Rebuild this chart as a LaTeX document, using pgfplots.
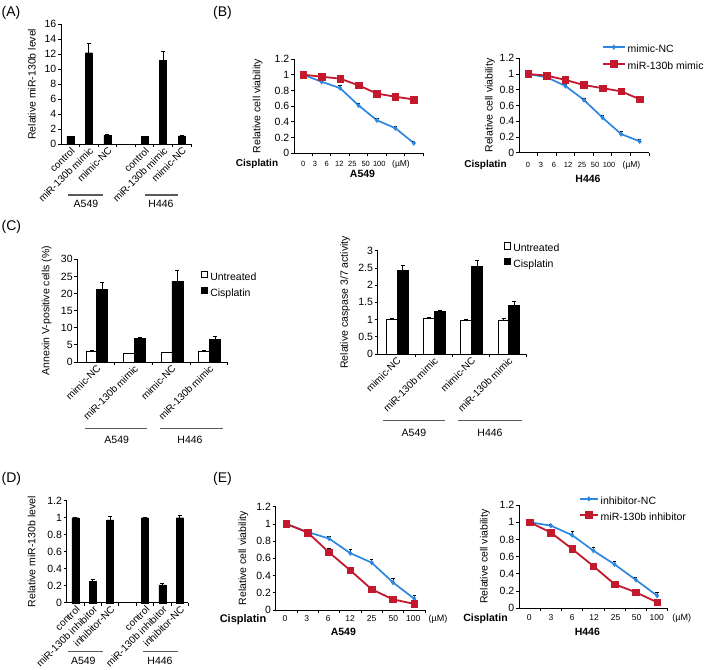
\documentclass[border=0pt]{standalone}
\usepackage{fontspec}
\setmainfont{Liberation Sans}
\usepackage{pgfplots}
\pgfplotsset{compat=1.18}

\definecolor{ncblue}{RGB}{45,135,225}
\definecolor{mired}{RGB}{195,25,45}
\definecolor{grp}{RGB}{90,90,90}

\pgfplotsset{
  panel/.style={
    scale only axis, clip=false,
    axis lines=left, axis line style={-, line width=0.8pt, black},
    tick align=outside, major tick length=3pt,
    tick style={line width=0.8pt, black},
    tick label style={font=\fontsize{10.5}{12}\selectfont},
    yticklabel style={/pgf/number format/assume math mode=true, inner sep=1.5pt},
    label style={font=\fontsize{10.5}{12}\selectfont},
    xmin=-0.5, ymin=0,
  },
  catbar/.style={panel, ybar, bar width=7pt, xticklabels={},
    extra x tick style={major tick length=0pt,
      tick label style={rotate=45, anchor=north east, inner sep=1.5pt,
        font=\fontsize{10}{12}\selectfont}},
  },
  curve/.style={panel, xmax=6.5, ymax=1.2,
    ytick={0,0.2,0.4,0.6,0.8,1,1.2},
    xtick={0.5,1.5,2.5,3.5,4.5,5.5,6.5}, xticklabels={},
    ylabel={Relative cell viability},
  },
  errs/.style={error bars/y dir=plus, error bars/y explicit,
    error bars/error bar style={line width=0.8pt, black},
    error bars/error mark options={rotate=90, mark size=2pt, line width=0.8pt, black}},
  lerrs/.style={error bars/y dir=plus, error bars/y explicit,
    error bars/error bar style={line width=0.7pt, black},
    error bars/error mark options={rotate=90, mark size=1.6pt, line width=0.7pt, black}},
  ncline/.style={ncblue, line width=1.7pt, mark=diamond*, mark size=2.3pt,
    mark options={solid, fill=ncblue, line width=0.5pt}},
  miline/.style={mired, line width=1.8pt, mark=square*, mark size=3.3pt,
    mark options={solid, fill=mired, line width=0.5pt}},
  linekey/.style={legend image code/.code={
    \draw[mark repeat=2, mark phase=2, ##1] plot coordinates {(0pt,3pt) (#1/2,3pt) (#1,3pt)};}},
  boxkey/.style={legend image code/.code={
    \draw[#1, line width=0.8pt] (0pt,0pt) rectangle (6.4pt,6.4pt);}},
  keys/.style={legend cell align=left,
    legend style={draw=none, fill=none, inner sep=0pt, outer sep=0pt,
      column sep=1pt, font=\fontsize{10.5}{12}\selectfont,
      nodes={inner sep=1pt, text height=7.8pt, text depth=2.5pt}}},
}

\begin{document}
\begin{tikzpicture}
\useasboundingbox (0pt,0pt) rectangle (709pt,-669pt);
\tikzset{lab/.style={anchor=base, inner sep=0pt}}

% (A)
\begin{axis}[catbar, at={(61pt,-144pt)}, anchor=south west,
  width=130pt, height=119.7pt, xmax=6.5, ymax=16,
  ytick={0,2,...,16},
  xtick={0.5,1.5,2.5,3.5,4.5,5.5,6.5},
  extra x ticks={0,1,2,4,5,6},
  extra x tick labels={control, miR-130b mimic, mimic-NC, control, miR-130b mimic, mimic-NC},
  ylabel={Relative miR-130b level},
  ylabel style={at={(axis description cs:-0.225,0.5)}, anchor=center}]
  \addplot[fill=black, draw=black, errs] coordinates {
    (0,1.0) +- (0,0.08) (1,12.2) +- (0,1.2) (2,1.2) +- (0,0.05)
    (4,1.0) +- (0,0.07) (5,11.2) +- (0,1.2) (6,1.1) +- (0,0.05)};
\end{axis}

% (B) A549
\begin{axis}[curve, at={(294pt,-153.3pt)}, anchor=south west,
  width=129pt, height=94.3pt,
  ylabel style={at={(axis description cs:-0.281,0.5)}, anchor=center}]
  \addplot[ncline, lerrs] coordinates {
    (0,1.00) +- (0,0.01) (1,0.91) +- (0,0.02) (2,0.83) +- (0,0.04)
    (3,0.61) +- (0,0.02) (4,0.42) +- (0,0.02) (5,0.32) +- (0,0.02) (6,0.13) +- (0,0.02)};
  \addplot[miline, lerrs] coordinates {
    (0,1.00) +- (0,0.01) (1,0.975) +- (0,0.02) (2,0.95) +- (0,0.02)
    (3,0.865) +- (0,0.04) (4,0.76) +- (0,0.02) (5,0.72) +- (0,0.02) (6,0.685) +- (0,0.02)};
\end{axis}

% (B) H446
\begin{axis}[curve, keys, at={(519pt,-152.7pt)}, anchor=south west,
  width=130pt, height=94.4pt,
  ylabel style={at={(axis description cs:-0.223,0.5)}, anchor=center},
  legend style={at={(0.638,1.151)}, anchor=north west, row sep=4.4pt}]
  \addplot[forget plot, ncline, lerrs] coordinates {
    (0,1.00) +- (0,0.04) (1,0.958) +- (0,0.02) (2,0.848) +- (0,0.02)
    (3,0.67) +- (0,0.02) (4,0.445) +- (0,0.03) (5,0.237) +- (0,0.03) (6,0.144) +- (0,0.02)};
  \addplot[forget plot, miline, lerrs] coordinates {
    (0,1.00) +- (0,0.02) (1,0.98) +- (0,0.02) (2,0.925) +- (0,0.02)
    (3,0.86) +- (0,0.02) (4,0.82) +- (0,0.03) (5,0.78) +- (0,0.02) (6,0.68) +- (0,0.02)};
  \addlegendimage{ncline, linekey=22pt}
  \addlegendentry{mimic-NC}
  \addlegendimage{miline, linekey=22pt}
  \addlegendentry{miR-130b mimic}
\end{axis}

% (C) Annexin V
\begin{axis}[catbar, keys, bar width=11pt, at={(77.3pt,-362pt)}, anchor=south west,
  width=150.2pt, height=102.7pt, xmax=3.5, ymax=30,
  ytick={0,5,...,30},
  xtick={0.5,1.5,2.5,3.5},
  extra x ticks={0,1,2,3},
  extra x tick labels={mimic-NC, miR-130b mimic, mimic-NC, miR-130b mimic},
  ylabel={Annexin V-positive cells (\%)},
  ylabel style={at={(axis description cs:-0.204,0.5)}, anchor=center},
  legend style={at={(0.824,0.886)}, anchor=north west, row sep=3pt}]
  \addplot[forget plot, bar shift=-4.5pt, fill=white, draw=black, line width=0.8pt, errs] coordinates {
    (0,3.2) +- (0,0.1) (1,2.4) +- (0,0.1) (2,2.7) +- (0,0.1) (3,3.2) +- (0,0.1)};
  \addplot[forget plot, bar shift=6.3pt, fill=black, draw=black, line width=0.8pt, errs] coordinates {
    (0,21.2) +- (0,2.0) (1,6.84) +- (0,0.3) (2,23.65) +- (0,3.0) (3,6.5) +- (0,0.9)};
  \addlegendimage{boxkey, fill=white, draw=black}
  \addlegendentry{Untreated}
  \addlegendimage{boxkey, fill=black, draw=black}
  \addlegendentry{Cisplatin}
\end{axis}

% (C) caspase
\begin{axis}[catbar, keys, bar width=11pt, at={(377.7pt,-354pt)}, anchor=south west,
  width=149pt, height=103.3pt, xmax=3.5, ymax=3,
  ytick={0,0.5,1,1.5,2,2.5,3},
  xtick={0.5,1.5,2.5,3.5},
  extra x ticks={0,1,2,3},
  extra x tick labels={mimic-NC, miR-130b mimic, mimic-NC, miR-130b mimic},
  ylabel={Relative caspase 3/7 activity},
  ylabel style={at={(axis description cs:-0.219,0.5)}, anchor=center},
  legend style={at={(0.848,1.081)}, anchor=north west, row sep=2.4pt}]
  \addplot[forget plot, bar shift=-4.5pt, fill=white, draw=black, line width=0.8pt, errs] coordinates {
    (0,1.0) +- (0,0.02) (1,1.03) +- (0,0.02) (2,0.98) +- (0,0.03) (3,0.99) +- (0,0.03)};
  \addplot[forget plot, bar shift=6.3pt, fill=black, draw=black, line width=0.8pt, errs] coordinates {
    (0,2.42) +- (0,0.16) (1,1.24) +- (0,0.03) (2,2.54) +- (0,0.19) (3,1.41) +- (0,0.11)};
  \addlegendimage{boxkey, fill=white, draw=black}
  \addlegendentry{Untreated}
  \addlegendimage{boxkey, fill=black, draw=black}
  \addlegendentry{Cisplatin}
\end{axis}

% (D)
\begin{axis}[catbar, at={(66.7pt,-602.7pt)}, anchor=south west,
  width=121.8pt, height=102pt, xmax=6.5, ymax=1.2,
  ytick={0,0.2,0.4,0.6,0.8,1,1.2},
  xtick={0.5,1.5,2.5,3.5,4.5,5.5,6.5},
  extra x ticks={0,1,2,4,5,6},
  extra x tick labels={control, miR-130b inhibitor, inhibitor-NC, control, miR-130b inhibitor, inhibitor-NC},
  ylabel={Relative miR-130b level},
  ylabel style={at={(axis description cs:-0.287,0.5)}, anchor=center}]
  \addplot[fill=black, draw=black, errs] coordinates {
    (0,1.0) +- (0,0.005) (1,0.25) +- (0,0.03) (2,0.975) +- (0,0.045)
    (4,1.0) +- (0,0.005) (5,0.21) +- (0,0.02) (6,1.0) +- (0,0.03)};
\end{axis}

% (E) A549
\begin{axis}[curve, at={(275.7pt,-610pt)}, anchor=south west,
  width=149.3pt, height=103.3pt,
  ylabel style={at={(axis description cs:-0.217,0.5)}, anchor=center}]
  \addplot[ncline, lerrs] coordinates {
    (0,1.00) +- (0,0.01) (1,0.906) +- (0,0.02) (2,0.83) +- (0,0.03)
    (3,0.66) +- (0,0.05) (4,0.55) +- (0,0.04) (5,0.32) +- (0,0.05) (6,0.13) +- (0,0.04)};
  \addplot[miline, lerrs] coordinates {
    (0,1.00) +- (0,0.01) (1,0.90) +- (0,0.01) (2,0.67) +- (0,0.05)
    (3,0.46) +- (0,0.01) (4,0.24) +- (0,0.01) (5,0.124) +- (0,0.01) (6,0.07) +- (0,0.01)};
\end{axis}

% (E) H446
\begin{axis}[curve, keys, at={(519pt,-608.3pt)}, anchor=south west,
  width=148.7pt, height=103.3pt,
  ylabel style={at={(axis description cs:-0.229,0.5)}, anchor=center},
  legend style={at={(0.403,1.090)}, anchor=north west, row sep=3.3pt}]
  \addplot[forget plot, ncline, lerrs] coordinates {
    (0,1.00) +- (0,0.03) (1,0.96) +- (0,0.02) (2,0.85) +- (0,0.04)
    (3,0.67) +- (0,0.04) (4,0.51) +- (0,0.04) (5,0.33) +- (0,0.03) (6,0.147) +- (0,0.04)};
  \addplot[forget plot, miline, lerrs] coordinates {
    (0,1.00) +- (0,0.03) (1,0.88) +- (0,0.02) (2,0.69) +- (0,0.02)
    (3,0.49) +- (0,0.02) (4,0.28) +- (0,0.03) (5,0.186) +- (0,0.03) (6,0.07) +- (0,0.01)};
  \addlegendimage{ncline, linekey=18pt}
  \addlegendentry{inhibitor-NC}
  \addlegendimage{miline, linekey=18pt}
  \addlegendentry{miR-130b inhibitor}
\end{axis}

% panel letters
\begin{scope}[every node/.style={anchor=base west, inner sep=0pt, font=\fontsize{14}{16}\selectfont}]
  \node at (1.5pt,-16.5pt) {(A)};
  \node at (213pt,-16.5pt) {(B)};
  \node at (1.5pt,-230pt) {(C)};
  \node at (1.5pt,-482pt) {(D)};
  \node at (213pt,-482pt) {(E)};
\end{scope}

% group bars under category axes
\begin{scope}[grp, line width=1.2pt]
  \draw (68.3pt,-195pt) -- (103.3pt,-195pt);
  \draw (145pt,-195pt) -- (178.3pt,-195pt);
  \draw (85pt,-428.3pt) -- (147.3pt,-428.3pt);
  \draw (160pt,-428.3pt) -- (223.3pt,-428.3pt);
  \draw (383pt,-420.7pt) -- (445pt,-420.7pt);
  \draw (458pt,-420.7pt) -- (522pt,-420.7pt);
  \draw (68.3pt,-651.7pt) -- (103.3pt,-651.7pt);
  \draw (143.3pt,-651.7pt) -- (178.3pt,-651.7pt);
\end{scope}
\begin{scope}[every node/.style={lab, font=\fontsize{10.5}{12}\selectfont}]
  \node at (86pt,-207.8pt) {A549};
  \node at (161pt,-207.8pt) {H446};
  \node at (116.7pt,-443.8pt) {A549};
  \node at (190pt,-443.8pt) {H446};
  \node at (414pt,-436.2pt) {A549};
  \node at (490pt,-436.2pt) {H446};
  \node at (83.3pt,-664.5pt) {A549};
  \node at (160pt,-664.5pt) {H446};
\end{scope}

% dose rows
\begin{scope}[every node/.style={lab, font=\fontsize{7.5}{9}\selectfont}]
  \node[font=\fontsize{10}{12}\selectfont\bfseries] at (257pt,-166.8pt) {Cisplatin};
  \node at (303.3pt,-166.3pt) {0};   \node at (315pt,-166.3pt) {3};
  \node at (326.7pt,-166.3pt) {6};   \node at (339.3pt,-166.3pt) {12};
  \node at (352.3pt,-166.3pt) {25};  \node at (365.7pt,-166.3pt) {50};
  \node at (379.3pt,-166.3pt) {100};
  \node[font=\fontsize{8.5}{10}\selectfont] at (401pt,-166.3pt) {(µM)};
  \node[font=\fontsize{10.5}{12}\selectfont\bfseries] at (362.5pt,-177.8pt) {A549};

  \node[font=\fontsize{10}{12}\selectfont\bfseries] at (485.5pt,-167.5pt) {Cisplatin};
  \node at (528pt,-167pt) {0};   \node at (541pt,-167pt) {3};
  \node at (554pt,-167pt) {6};   \node at (568pt,-167pt) {12};
  \node at (582pt,-167pt) {25};  \node at (595pt,-167pt) {50};
  \node at (609pt,-167pt) {100};
  \node[font=\fontsize{8.5}{10}\selectfont] at (631.5pt,-167pt) {(µM)};
  \node[font=\fontsize{10.5}{12}\selectfont\bfseries] at (588pt,-182pt) {H446};
\end{scope}
\begin{scope}[every node/.style={lab, font=\fontsize{8.5}{10}\selectfont}]
  \node[font=\fontsize{11}{13}\selectfont\bfseries] at (243pt,-622.2pt) {Cisplatin};
  \node at (285pt,-621.5pt) {0};    \node at (306.7pt,-621.5pt) {3};
  \node at (328.3pt,-621.5pt) {6};  \node at (350pt,-621.5pt) {12};
  \node at (371.7pt,-621.5pt) {25}; \node at (393.3pt,-621.5pt) {50};
  \node at (413.3pt,-621.5pt) {100};
  \node[font=\fontsize{9}{11}\selectfont] at (438pt,-621.5pt) {(µM)};
  \node[font=\fontsize{10.5}{12}\selectfont\bfseries] at (343.3pt,-635.5pt) {A549};

  \node[font=\fontsize{10.5}{12}\selectfont\bfseries] at (485.5pt,-621pt) {Cisplatin};
  \node at (529.3pt,-620.5pt) {0};   \node at (551pt,-620.5pt) {3};
  \node at (572.3pt,-620.5pt) {6};   \node at (594pt,-620.5pt) {12};
  \node at (615.7pt,-620.5pt) {25};  \node at (636.7pt,-620.5pt) {50};
  \node at (656.7pt,-620.5pt) {100};
  \node[font=\fontsize{9}{11}\selectfont] at (681.7pt,-620.5pt) {(µM)};
  \node[font=\fontsize{10.5}{12}\selectfont\bfseries] at (587.3pt,-635.5pt) {H446};
\end{scope}
\end{tikzpicture}
\end{document}
